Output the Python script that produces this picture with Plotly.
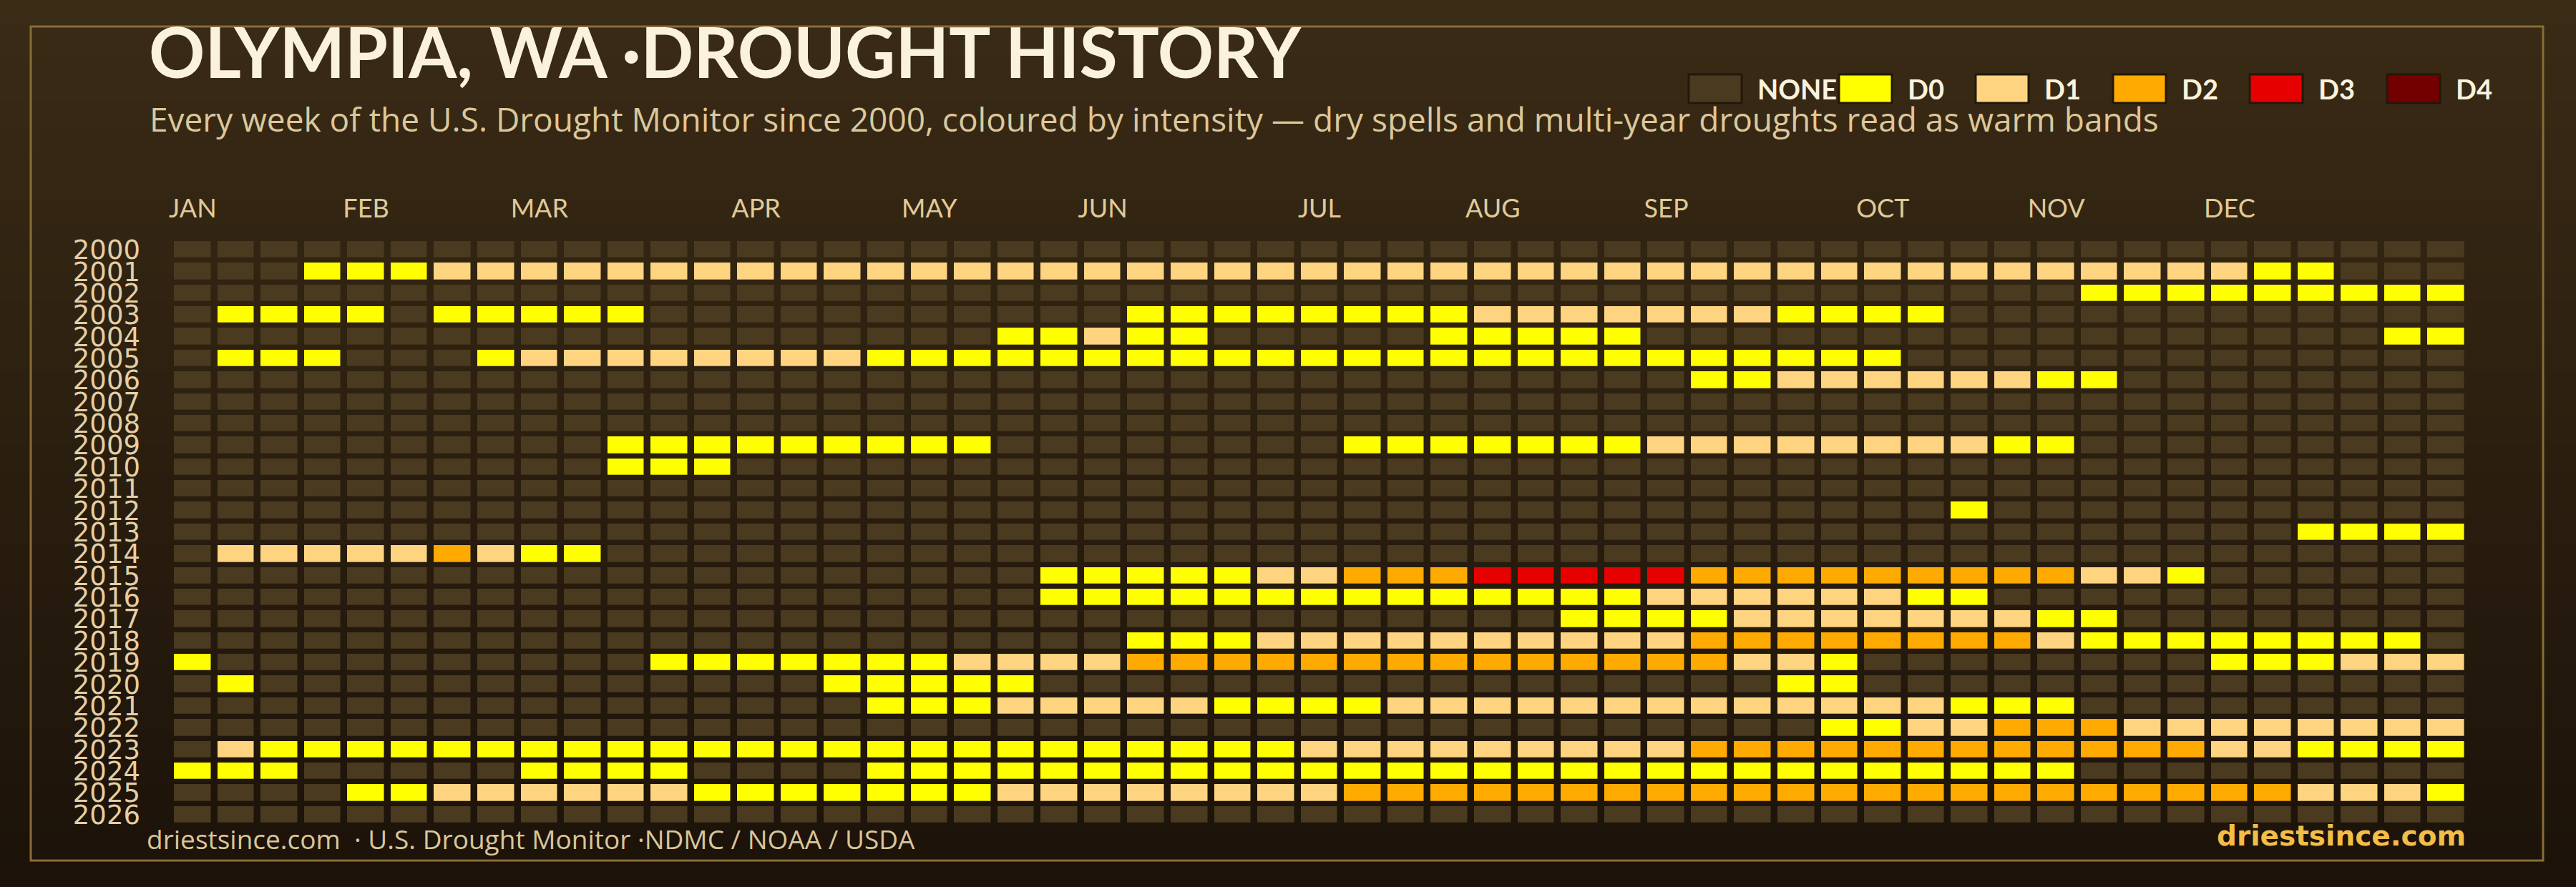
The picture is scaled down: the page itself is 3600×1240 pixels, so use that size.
import plotly.graph_objects as go

# ---------------- data ----------------
YEARS = list(range(2000, 2027))
# one string per year, 53 weekly cells: '-' none, '0'..'4' = D0..D4
W2000 = "-" * 53
W2001 = "---" + "000" + "1" * 42 + "00" + "---"
W2002 = "-" * 44 + "0" * 9
W2003 = "-" + "0000" + "-" + "00000" + "-" * 11 + "0" * 8 + "1" * 7 + "0000" + "-" * 12
W2004 = "-" * 19 + "00" + "1" + "00" + "-" * 5 + "0" * 5 + "-" * 17 + "00"
W2005 = "-" + "000" + "---" + "0" + "1" * 8 + "0" * 24 + "-" * 13
W2006 = "-" * 35 + "00" + "1" * 6 + "00" + "-" * 8
W2007 = "-" * 53
W2008 = "-" * 53
W2009 = "-" * 10 + "0" * 9 + "-" * 8 + "0" * 7 + "1" * 8 + "00" + "-" * 9
W2010 = "-" * 10 + "000" + "-" * 40
W2011 = "-" * 53
W2012 = "-" * 41 + "0" + "-" * 11
W2013 = "-" * 49 + "0000"
W2014 = "-" + "11111" + "2" + "1" + "00" + "-" * 43
W2015 = "-" * 20 + "0" * 5 + "11" + "222" + "33333" + "2" * 9 + "11" + "0" + "-" * 6
W2016 = "-" * 20 + "0" * 14 + "1" * 6 + "00" + "-" * 11
W2017 = "-" * 32 + "0000" + "1" * 7 + "00" + "-" * 8
W2018 = "-" * 22 + "000" + "1" * 10 + "2" * 8 + "1" + "0" * 8 + "-"
W2019 = "0" + "-" * 10 + "0" * 7 + "1111" + "2" * 14 + "11" + "0" + "-" * 8 + "000" + "111"
W2020 = "-" + "0" + "-" * 13 + "0" * 5 + "-" * 17 + "00" + "-" * 14
W2021 = "-" * 16 + "000" + "1" * 5 + "0000" + "1" * 13 + "000" + "-" * 9
W2022 = "-" * 38 + "00" + "11" + "222" + "1" * 8
W2023 = "-" + "1" + "0" * 24 + "1" * 9 + "2" * 12 + "11" + "0000"
W2024 = "000" + "-" * 5 + "0000" + "----" + "0" * 28 + "-" * 9
W2025 = "----" + "00" + "1" * 6 + "0" * 7 + "1" * 8 + "2" * 22 + "111" + "0"
W2026 = "-" * 53
WEEK_ROWS = [W2000, W2001, W2002, W2003, W2004, W2005, W2006, W2007, W2008,
             W2009, W2010, W2011, W2012, W2013, W2014, W2015, W2016, W2017,
             W2018, W2019, W2020, W2021, W2022, W2023, W2024, W2025, W2026]

CATEGORIES = ["NONE", "D0", "D1", "D2", "D3", "D4"]
CAT_COLORS = ["#4a3a20", "#ffff00", "#fed480", "#ffaa00", "#e60000", "#730000"]

MONTHS = ["JAN", "FEB", "MAR", "APR", "MAY", "JUN", "JUL", "AUG", "SEP", "OCT", "NOV", "DEC"]
MONTH_WEEK = [0, 4, 8, 13, 17, 21, 26, 30, 34, 39, 43, 47]

TITLE = "OLYMPIA, WA ·DROUGHT HISTORY"
SUBTITLE = ("Every week of the U.S. Drought Monitor since 2000, coloured by intensity — "
            "dry spells and multi-year droughts read as warm bands")
SOURCE = "driestsince.com  · U.S. Drought Monitor ·NDMC / NOAA / USDA"
BRAND = "driestsince.com"

# ---------------- build ----------------
code = {"-": 0, "0": 1, "1": 2, "2": 3, "3": 4, "4": 5}
Z = [[code[c] for c in row] for row in WEEK_ROWS]
n = len(CATEGORIES)
cscale = []
for i, c in enumerate(CAT_COLORS):
    cscale.append([i / n, c])
    cscale.append([(i + 1) / n, c])

W, H = 3600, 1240
ML, MR, MT, MB = 239, 151, 334, 86
PW, PH = W - ML - MR, H - MT - MB

def px(x):
    return (x - ML) / PW

def py(y):
    return 1 - (y - MT) / PH

FONT = "Lato"
FONT2 = "Open Sans"

fig = go.Figure()
fig.add_trace(go.Heatmap(
    z=Z, x=list(range(53)), y=YEARS,
    colorscale=cscale, zmin=-0.5, zmax=n - 0.5,
    showscale=False, xgap=9.5, ygap=7.3,
    hovertemplate="%{y} week %{x}<extra></extra>",
))

shapes = []
# background gradient
top = (0x3a, 0x2b, 0x15)
bot = (0x1b, 0x12, 0x09)
NB = 62
for i in range(NB):
    f = i / (NB - 1)
    col = "rgb(%d,%d,%d)" % tuple(round(top[k] + (bot[k] - top[k]) * f) for k in range(3))
    y0 = H * i / NB
    y1 = H * (i + 1) / NB + 1
    shapes.append(dict(type="rect", xref="paper", yref="paper", layer="below",
                       x0=px(0), x1=px(W), y0=py(y1), y1=py(y0),
                       fillcolor=col, line=dict(width=0)))
# frame
shapes.append(dict(type="rect", xref="paper", yref="paper", layer="below",
                   x0=px(43), x1=px(3554), y0=py(1203), y1=py(37),
                   fillcolor="rgba(0,0,0,0)", line=dict(color="#8a6c36", width=3)))

annotations = []
annotations.append(dict(text="<b>" + TITLE + "</b>", xref="paper", yref="paper",
                        x=px(206), y=py(72), xanchor="left", yanchor="middle",
                        showarrow=False, font=dict(family=FONT, size=97, color="#fbf2de")))
annotations.append(dict(text=SUBTITLE, xref="paper", yref="paper",
                        x=px(207), y=py(166), xanchor="left", yanchor="middle",
                        showarrow=False, font=dict(family=FONT2, size=46, color="#dcc79c")))
annotations.append(dict(text=SOURCE, xref="paper", yref="paper",
                        x=px(203), y=py(1172), xanchor="left", yanchor="middle",
                        showarrow=False, font=dict(family=FONT2, size=37, color="#d9c59b")))
annotations.append(dict(text="<b>" + BRAND + "</b>", xref="paper", yref="paper",
                        x=px(3448), y=py(1168), xanchor="right", yanchor="middle",
                        showarrow=False, font=dict(family="DejaVu Sans", size=39, color="#f3bd48")))

# legend
leg_x = [2360, 2570, 2761, 2953, 3144, 3336]
for lx, name, col in zip(leg_x, CATEGORIES, CAT_COLORS):
    shapes.append(dict(type="rect", xref="paper", yref="paper",
                       x0=px(lx), x1=px(lx + 74), y0=py(144), y1=py(104),
                       fillcolor=col, line=dict(color="#22180b", width=3)))
    annotations.append(dict(text="<b>" + name + "</b>", xref="paper", yref="paper",
                            x=px(lx + 94), y=py(124), xanchor="left", yanchor="middle",
                            showarrow=False, font=dict(family=FONT, size=38, color="#fbf2de")))

fig.update_layout(
    width=W, height=H,
    margin=dict(l=ML, r=MR, t=MT, b=MB, autoexpand=False),
    paper_bgcolor="#1b1209", plot_bgcolor="rgba(0,0,0,0)",
    showlegend=False, shapes=shapes, annotations=annotations,
    xaxis=dict(side="top", range=[-0.5, 52.5], tickvals=MONTH_WEEK, ticktext=MONTHS,
               showgrid=False, zeroline=False, showline=False, ticks="",
               tickfont=dict(family=FONT, size=36, color="#e0ca99"),
               ticklabelstandoff=22, automargin=False, fixedrange=True),
    yaxis=dict(range=[2026.5, 1999.5], tickvals=YEARS, ticktext=[str(y) for y in YEARS],
               showgrid=False, zeroline=False, showline=False, ticks="",
               tickfont=dict(family="DejaVu Sans", size=37, color="#e4cfa5"),
               ticklabelstandoff=42, automargin=False, fixedrange=True),
)

fig.write_html("out.html")
